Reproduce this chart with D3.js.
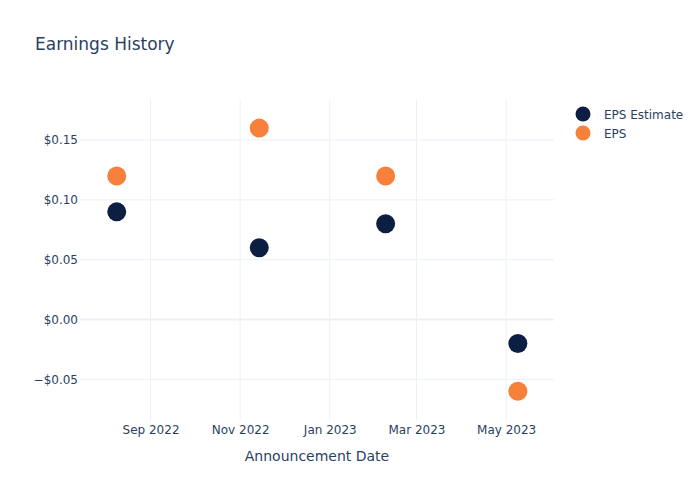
<!DOCTYPE html>
<html>
<head>
<meta charset="utf-8">
<script src="https://cdn.jsdelivr.net/npm/d3@7"></script>
<style>
  html, body { margin: 0; padding: 0; background: #fff; }
  svg { display: block; }
  text { font-family: "DejaVu Sans", Verdana, Arial, sans-serif; fill: #2a3f5f; }
</style>
</head>
<body>
<svg id="chart" width="700" height="500"></svg>
<script>
const dates = ["2022-08-09", "2022-11-14", "2023-02-08", "2023-05-09"];
const epsEstimate = [0.09, 0.06, 0.08, -0.02];
const eps = [0.12, 0.16, 0.12, -0.06];
const seriesNames = ["EPS Estimate", "EPS"];
const seriesColors = ["#0c1f42", "#f7813a"];
const yTicks = [-0.05, 0, 0.05, 0.10, 0.15];
const xTicks = ["2022-09-01", "2022-11-01", "2023-01-01", "2023-03-01", "2023-05-01"];

const parse = d3.utcParse("%Y-%m-%d");
const svg = d3.select("#chart");
const W = 700, H = 500;
const m = { l: 80, r: 146, t: 100, b: 80 };
const pw = W - m.l - m.r, ph = H - m.t - m.b;

const x = d3.scaleUtc()
  .domain([parse("2022-07-15"), new Date(Date.UTC(2023, 5, 2, 14))])
  .range([m.l, m.l + pw]);
const y = d3.scaleLinear().domain([-0.0840, 0.1835]).range([m.t + ph, m.t]);

// Title
svg.append("text").attr("x", 35).attr("y", 50).attr("font-size", 17).text("Earnings History");

// Grid
const g = svg.append("g");
g.selectAll("line.xg").data(xTicks).join("line")
  .attr("x1", d => x(parse(d))).attr("x2", d => x(parse(d)))
  .attr("y1", m.t).attr("y2", m.t + ph)
  .attr("stroke", "#ebf0f8").attr("stroke-width", 1);
g.selectAll("line.yg").data(yTicks).join("line")
  .attr("x1", m.l).attr("x2", m.l + pw)
  .attr("y1", d => y(d)).attr("y2", d => y(d))
  .attr("stroke", "#ebf0f8").attr("stroke-width", d => d === 0 ? 2 : 1);

// Axes
const fmtY = v => (v < 0 ? "\u2212" : "") + "$" + Math.abs(v).toFixed(2);
const yAxis = svg.append("g").attr("transform", `translate(${m.l},0)`)
  .call(d3.axisLeft(y).tickValues(yTicks).tickFormat(fmtY).tickSize(0).tickPadding(2));
yAxis.select(".domain").remove();
yAxis.selectAll("text").attr("font-size", 12).attr("fill", "#2a3f5f").style("font-family", "DejaVu Sans, sans-serif");

const xAxis = svg.append("g").attr("transform", `translate(0,${m.t + ph})`)
  .call(d3.axisBottom(x).tickValues(xTicks.map(parse)).tickFormat(d3.utcFormat("%b %Y")).tickSize(0).tickPadding(5));
xAxis.select(".domain").remove();
xAxis.selectAll("text").attr("font-size", 12).attr("fill", "#2a3f5f").style("font-family", "DejaVu Sans, sans-serif");

svg.append("text").attr("x", m.l + pw / 2).attr("y", 461).attr("text-anchor", "middle")
  .attr("font-size", 14).text("Announcement Date");

// Points
const series = [epsEstimate, eps];
series.forEach((vals, i) => {
  svg.append("g").selectAll("circle").data(vals).join("circle")
    .attr("cx", (d, j) => x(parse(dates[j])))
    .attr("cy", d => y(d))
    .attr("r", 9.5)
    .attr("fill", seriesColors[i]);
});

// Legend
const leg = svg.append("g");
seriesNames.forEach((name, i) => {
  const ly = 114 + i * 19;
  leg.append("circle").attr("cx", 583).attr("cy", ly).attr("r", 7.5).attr("fill", seriesColors[i]);
  leg.append("text").attr("x", 604).attr("y", ly + 4.5).attr("font-size", 12).text(name);
});
</script>
</body>
</html>
